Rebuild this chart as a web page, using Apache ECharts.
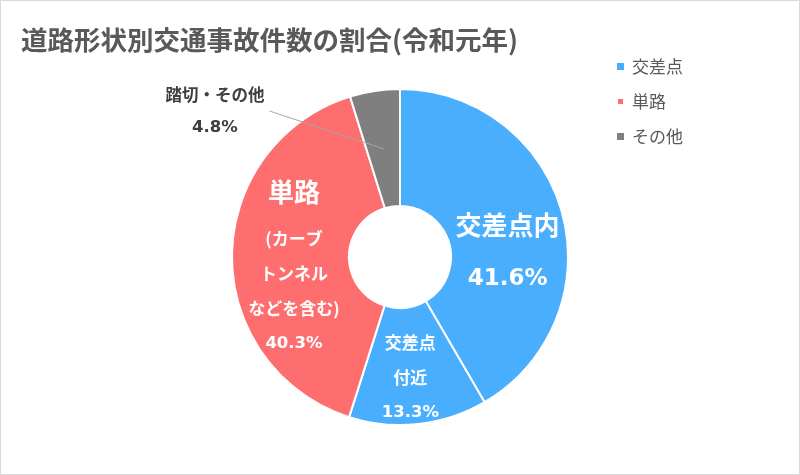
<!DOCTYPE html>
<html>
<head>
<meta charset="utf-8">
<script src="https://cdn.jsdelivr.net/npm/echarts@6/dist/echarts.min.js"></script>
<style>
html,body{margin:0;padding:0;background:#fff;}
#chart{width:800px;height:475px;}
</style>
</head>
<body>
<div id="chart"></div>
<script>
// ---- data ----
const titleText = '道路形状別交通事故件数の割合(令和元年)';
const sliceNames = ['交差点内', '交差点付近', '単路', '踏切・その他'];
const sliceValues = [41.6, 13.3, 40.3, 4.8];
const sliceLabelLines = [
  ['交差点内'],
  ['交差点', '付近'],
  ['単路', '(カーブ', 'トンネル', 'などを含む)'],
  ['踏切・その他']
];
const legendNames = ['交差点', '単路', 'その他'];

// ---- styles ----
const BLUE = '#4AAEFF', RED = '#FF6E6E', GRAY = '#7F7F7F';
const sliceColors = [BLUE, BLUE, RED, GRAY];
const legendColors = [BLUE, RED, GRAY];
const CX = 400, CY = 257, R0 = 51, R1 = 168;
const JP = '"Noto Sans CJK JP", "Noto Sans", sans-serif';
const NUM = '"DejaVu Sans", sans-serif';
const OUTSIDE_INDEX = 3;

const total = sliceValues.reduce((a, b) => a + b, 0);

function labelFor(i) {
  const lines = sliceLabelLines[i];
  const pct = sliceValues[i].toFixed(1) + '%';
  if (i === 0) return '{big|' + lines[0] + '}\n{bigNum|' + pct + '}';
  if (i === 1) return lines.map(l => '{small|' + l + '}').join('\n') + '\n{smallNum|' + pct + '}';
  if (i === 2) return '{mid|' + lines[0] + '}\n' + lines.slice(1).map(l => '{small|' + l + '}').join('\n') + '\n{smallNum|' + pct + '}';
  return '{out|' + lines[0] + '}\n{outNum|' + pct + '}';
}

const rich = {
  big: {fontFamily: JP, fontSize: 26, fontWeight: 'bold', color: '#fff', lineHeight: 54},
  bigNum: {fontFamily: NUM, fontSize: 23, fontWeight: 'bold', color: '#fff', lineHeight: 54},
  mid: {fontFamily: JP, fontSize: 26, fontWeight: 'bold', color: '#fff', lineHeight: 59},
  small: {fontFamily: JP, fontSize: 17, fontWeight: 'bold', color: '#fff', lineHeight: 35},
  smallNum: {fontFamily: NUM, fontSize: 16.5, fontWeight: 'bold', color: '#fff', lineHeight: 35},
  out: {fontFamily: JP, fontSize: 16.5, fontWeight: 'bold', color: '#404040', lineHeight: 33},
  outNum: {fontFamily: NUM, fontSize: 16.5, fontWeight: 'bold', color: '#404040', lineHeight: 33}
};

const labelShift = [[-1, 24.5], [-2, 9], [6.5, 5]];

const chart = echarts.init(document.getElementById('chart'), null, {renderer: 'canvas'});

chart.setOption({
  backgroundColor: '#fff',
  animation: false,
  title: {
    text: titleText,
    left: 21, top: 27, padding: 0,
    textStyle: {fontFamily: JP, fontSize: 26.5, fontWeight: 'bold', color: '#595959'}
  },
  legend: {
    data: legendNames,
    orient: 'vertical',
    left: 616, top: 58, padding: 0,
    icon: 'rect', itemWidth: 7, itemHeight: 7, itemGap: 18,
    textStyle: {fontFamily: JP, fontSize: 17, color: '#595959', padding: [0, 0, 0, 3]},
    selectedMode: false
  },
  graphic: [{
    type: 'rect', silent: true,
    shape: {x: 0.5, y: 0.5, width: 799, height: 474},
    style: {fill: 'none', stroke: '#D9D9D9', lineWidth: 1}
  }],
  series: [
    {
      // visible donut with inside labels
      type: 'pie',
      z: 2,
      center: [CX, CY],
      radius: [R0, R1],
      startAngle: 90,
      clockwise: true,
      avoidLabelOverlap: false,
      itemStyle: {borderColor: '#fff', borderWidth: 2},
      label: {show: true, position: 'inside', rich: rich, align: 'center'},
      labelLine: {show: false},
      emphasis: {disabled: true},
      data: sliceNames.map((n, i) => ({
        name: n,
        value: sliceValues[i],
        itemStyle: {color: sliceColors[i]},
        label: i === OUTSIDE_INDEX ? {show: false} : {formatter: labelFor(i)}
      })),
      labelLayout: function (p) {
        const i = p.dataIndex;
        if (i < labelShift.length) return {dx: labelShift[i][0], dy: labelShift[i][1]};
        return {};
      }
    },
    {
      // transparent overlay carrying the outside label with its leader line on top
      type: 'pie',
      z: 5,
      silent: true,
      center: [CX, CY],
      radius: [R0, R1],
      startAngle: 90,
      clockwise: true,
      avoidLabelOverlap: false,
      itemStyle: {color: 'rgba(0,0,0,0)', borderWidth: 0},
      emphasis: {disabled: true},
      label: {show: false},
      labelLine: {show: false},
      data: sliceNames.map((n, i) => ({
        name: n,
        value: sliceValues[i],
        label: i === OUTSIDE_INDEX ? {show: true, position: 'outside', formatter: labelFor(i), rich: rich} : {show: false},
        labelLine: i === OUTSIDE_INDEX ? {show: true, lineStyle: {color: '#A6A6A6', width: 1}} : {show: false}
      })),
      labelLayout: function (p) {
        const i = p.dataIndex;
        if (i !== OUTSIDE_INDEX) return {};
        let before = 0;
        for (let k = 0; k < i; k++) before += sliceValues[k];
        const ang = (before + sliceValues[i] / 2) / total * Math.PI * 2;
        const rm = (R0 + R1) / 2;
        const px = CX + rm * Math.sin(ang), py = CY - rm * Math.cos(ang);
        const lx = CX - 185, ly = CY - 146;
        const sx = lx + p.labelRect.width / 2 + 5;
        return {
          x: lx, y: ly, align: 'center', verticalAlign: 'middle',
          labelLinePoints: [[sx, ly], [(sx + px) / 2, (ly + py) / 2], [px, py]]
        };
      }
    },
    {
      // legend swatches only
      type: 'pie',
      silent: true,
      center: [CX, CY],
      radius: [0, 0],
      label: {show: false},
      labelLine: {show: false},
      data: legendNames.map((n, i) => ({name: n, value: 1, itemStyle: {color: legendColors[i]}}))
    }
  ]
});
</script>
</body>
</html>
